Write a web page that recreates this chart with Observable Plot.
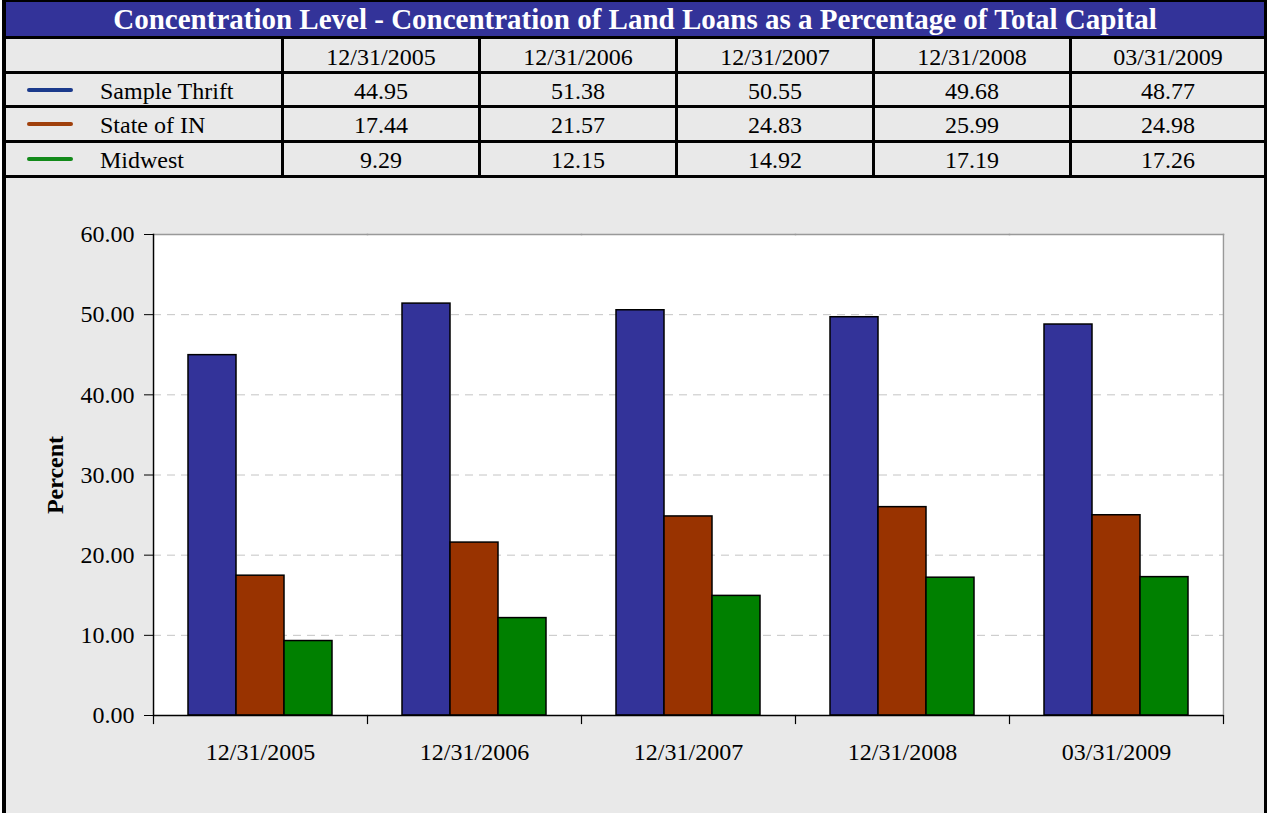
<!DOCTYPE html>
<html>
<head>
<meta charset="utf-8">
<script src="https://cdn.jsdelivr.net/npm/d3@7"></script>
<script src="https://cdn.jsdelivr.net/npm/@observablehq/plot@0.6"></script>
<style>
  body { margin: 0; background: #ffffff; }
  #page {
    position: absolute; left: 2px; top: 0; width: 1265px; height: 813px;
    box-sizing: border-box; overflow: hidden;
    border-left: 4px solid #000; border-right: 3px solid #000; border-top: 2px solid #000;
    background: #e9e9e9;
    font-family: "Liberation Serif", "Times New Roman", serif; color: #000;
  }
  #title {
    height: 34px; line-height: 34px; background: #333399; color: #fff;
    font-weight: bold; font-size: 29px; text-align: center; white-space: nowrap;
  }
  #grid {
    display: grid; background: #000; gap: 3px; padding: 3px 0;
    grid-template-columns: 275px 194px 194px 194px 194px 1fr;
    grid-template-rows: 32px 31px 32px 32px;
  }
  .cell {
    background: #e9e9e9; font-size: 24px; text-align: center;
    display: flex; align-items: center; justify-content: center; padding-top: 3px; box-sizing: border-box;
  }
  .cell.head { padding-top: 5px; }
  .cell.name { justify-content: flex-start; }
  .swatch { width: 46px; height: 4px; border-radius: 2px; margin-left: 21px; margin-right: 27px; margin-top: -3px; }
  #chart svg { display: block; }
</style>
</head>
<body>
<div id="page">
  <div id="title"></div>
  <div id="grid"></div>
  <div id="chart"></div>
</div>
<script>
// Reporting periods
const dates = ["12/31/2005", "12/31/2006", "12/31/2007", "12/31/2008", "03/31/2009"];
// Peer groups
const series = ["Sample Thrift", "State of IN", "Midwest"];
// Land loans as a percentage of total capital
const sampleThrift = [44.95, 51.38, 50.55, 49.68, 48.77];
const stateOfIN = [17.44, 21.57, 24.83, 25.99, 24.98];
const midwest = [9.29, 12.15, 14.92, 17.19, 17.26];
// Axis ticks
const yTicks = [0, 10, 20, 30, 40, 50, 60];
const gridTicks = [10, 20, 30, 40, 50];

const titleText = "Concentration Level - Concentration of Land Loans as a Percentage of Total Capital";
const barColors = ["#333399", "#993300", "#008000"];
const swatchColors = ["#1b3a8c", "#a0400c", "#128a1a"];

const valuesBySeries = [sampleThrift, stateOfIN, midwest];
const rows = dates.flatMap((date, i) =>
  series.map((s, j) => ({date, series: s, value: valuesBySeries[j][i]}))
);

// Title and data table
document.getElementById("title").textContent = titleText;
const grid = document.getElementById("grid");
const addCell = (html, cls = "") => {
  const c = document.createElement("div");
  c.className = "cell " + cls;
  c.innerHTML = html;
  grid.appendChild(c);
};
addCell("", "head");
dates.forEach(d => addCell(d, "head"));
series.forEach((s, j) => {
  addCell(`<span class="swatch" style="background:${swatchColors[j]}"></span><span>${s}</span>`, "name");
  valuesBySeries[j].forEach(v => addCell(v.toFixed(2)));
});

// Grouped bar chart
const plotHeight = 635, mTop = 56, mBottom = 98;
const innerH = plotHeight - mTop - mBottom;
const chart = Plot.plot({
  width: 1258,
  height: plotHeight,
  marginLeft: 146,
  marginRight: 41,
  marginTop: mTop,
  marginBottom: mBottom,
  style: {background: "transparent", fontFamily: "'Liberation Serif', 'Times New Roman', serif", fontSize: "24px", color: "#000"},
  fx: {domain: dates, padding: 0, label: null},
  x: {domain: series, paddingInner: 0, paddingOuter: 0.72, axis: null},
  y: {domain: [0, 60]},
  color: {domain: series, range: barColors},
  marks: [
    // plot area background; slight overlap hides seams between groups
    Plot.frame({fill: "white", insetLeft: -1, insetRight: -1}),
    Plot.gridY(gridTicks, {stroke: "#c4c4c4", strokeOpacity: 1, strokeDasharray: "8,6"}),
    Plot.frame({anchor: "top", stroke: "#999", strokeWidth: 1.5}),
    Plot.frame({anchor: "right", stroke: "#999", strokeWidth: 1.5, facetAnchor: "right"}),
    Plot.barY(rows, {fx: "date", x: "series", y: "value", fill: "series", stroke: "#000", strokeWidth: 1.5}),
    Plot.frame({anchor: "left", stroke: "#000", strokeWidth: 1.5, facetAnchor: "left"}),
    Plot.ruleY([0], {stroke: "#000", strokeWidth: 1.5}),
    // category separators below the baseline
    Plot.frame({anchor: "left", stroke: "#000", strokeWidth: 1.2, insetTop: innerH, insetBottom: -8}),
    Plot.frame({anchor: "right", stroke: "#000", strokeWidth: 1.2, insetTop: innerH, insetBottom: -8, facetAnchor: "right"}),
    Plot.axisY(yTicks, {tickFormat: d => d.toFixed(2), tickSize: 9, tickPadding: 10, label: null, stroke: "#000"}),
    Plot.text(["Percent"], {text: d => d, frameAnchor: "left", rotate: -90, dx: -98, textAnchor: "middle", fontWeight: "bold", fill: "#000", facetAnchor: "left"}),
    Plot.axisFx({anchor: "bottom", tickSize: 0, tickPadding: 27, label: null})
  ]
});
document.getElementById("chart").appendChild(chart);
</script>
</body>
</html>
